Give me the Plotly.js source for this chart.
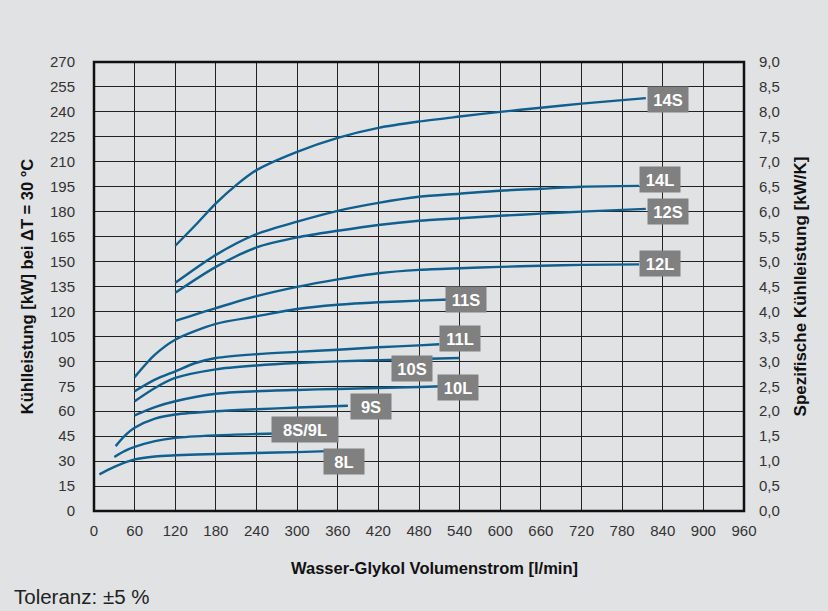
<!DOCTYPE html>
<html>
<head>
<meta charset="utf-8">
<script src="https://cdn.plot.ly/plotly-3.0.1.min.js"></script>
<style>
html,body{margin:0;padding:0;background:#e1e2e4;}
#chart{width:828px;height:611px;}
</style>
</head>
<body>
<div id="chart"></div>
<script>
// Series data: flow [l/min] and cooling capacity [kW]
const x8L   = [8, 30, 60, 90, 120, 180, 240, 300, 345];
const y8L   = [22, 26.5, 31, 32.8, 33.5, 34.3, 34.9, 35.4, 36];
const x8S9L = [30, 45, 60, 90, 120, 180, 240, 270];
const y8S9L = [32.5, 36, 38.5, 42, 44, 45.5, 46.3, 46.6];
const x9S   = [32, 45, 60, 90, 120, 180, 240, 300, 375];
const y9S   = [39, 45, 50, 55.5, 58, 60, 61.2, 62.2, 63.3];
const x10L  = [60, 90, 120, 180, 240, 300, 360, 420, 480, 515];
const y10L  = [57.5, 62.5, 66, 70.5, 72, 72.8, 73.4, 74, 74.6, 75];
const x10S  = [60, 90, 120, 180, 240, 300, 360, 420, 480, 540];
const y10S  = [66, 74, 80, 85.2, 87.5, 89, 90, 90.7, 91.4, 92];
const x11L  = [60, 90, 120, 150, 180, 240, 300, 360, 420, 480, 510];
const y11L  = [72, 79, 84, 89, 92, 94.3, 95.7, 97, 98.5, 99.6, 100.3];
const x11S  = [60, 90, 120, 180, 240, 300, 360, 420, 480, 525];
const y11S  = [80.5, 94, 103, 112.5, 117, 121.5, 124, 125.5, 126.5, 127.2];
const x12L  = [120, 180, 240, 300, 360, 420, 480, 540, 600, 660, 720, 805];
const y12L  = [114.3, 122, 129.2, 134.8, 139.3, 143, 145, 146, 146.8, 147.5, 148, 148.3];
const x12S  = [120, 180, 240, 300, 360, 420, 480, 540, 600, 660, 720, 815];
const y12S  = [131.2, 146.8, 158.5, 164.5, 168.5, 172, 174.5, 176, 177.5, 178.8, 180, 181.7];
const x14L  = [120, 180, 240, 300, 360, 420, 480, 540, 600, 660, 720, 805];
const y14L  = [137.2, 154, 166.5, 174, 180.5, 185.3, 189, 190.8, 192.6, 193.8, 195, 195.5];
const x14S  = [120, 150, 180, 210, 240, 300, 360, 420, 480, 540, 600, 660, 720, 815];
const y14S  = [159.5, 172, 185, 196, 205, 216, 224.4, 230.4, 234.2, 237.2, 240, 242.5, 245, 248.3];

// Label names and anchor points (flow, capacity)
const labelText = ['14S', '14L', '12S', '12L', '11S', '11L', '10S', '10L', '9S', '8S/9L', '8L'];
const labelX    = [848, 836, 848, 836, 550, 540, 469, 537, 409, 311, 369];
const labelY    = [247.6, 199.5, 180, 148.6, 127, 103.5, 85.7, 74, 63, 49.3, 29.5];

const xTicks = [0,60,120,180,240,300,360,420,480,540,600,660,720,780,840,900,960];
const yTicks = [0,15,30,45,60,75,90,105,120,135,150,165,180,195,210,225,240,255,270];
const y2Ticks = [0,0.5,1,1.5,2,2.5,3,3.5,4,4.5,5,5.5,6,6.5,7,7.5,8,8.5,9];
const y2Range = [0, 9];

const series = [[x8L,y8L],[x8S9L,y8S9L],[x9S,y9S],[x10L,y10L],[x10S,y10S],[x11L,y11L],
                [x11S,y11S],[x12L,y12L],[x12S,y12S],[x14L,y14L],[x14S,y14S]];

const lineColor = '#0f5f8f';
const traces = series.map(s => ({
  x: s[0], y: s[1], type: 'scatter', mode: 'lines',
  line: {color: lineColor, width: 2.4, shape: 'spline', smoothing: 0.8},
  hoverinfo: 'skip', showlegend: false
}));
// invisible trace that activates the right-hand axis
traces.push({x: [xTicks[0], xTicks[xTicks.length-1]], y: y2Range, yaxis: 'y2', type: 'scatter',
             mode: 'lines', line: {width: 0, color: 'rgba(0,0,0,0)'}, showlegend: false, hoverinfo: 'skip'});

const font = 'Liberation Sans, Arial, sans-serif';
const annotations = labelText.map((t, i) => ({
  x: labelX[i], y: labelY[i], xref: 'x', yref: 'y', text: t, showarrow: false,
  bgcolor: '#808080', font: {family: font, size: 16.5, color: '#ffffff', weight: 'bold'},
  borderpad: 3, width: t.length > 3 ? 60 : 34, height: 19
}));
annotations.push({
  xref: 'paper', yref: 'paper', x: -0.126, y: -0.1915, xanchor: 'left', yanchor: 'middle',
  text: 'Toleranz: ±5 %', showarrow: false,
  font: {family: font, size: 20.5, color: '#222'}
});
annotations.push({
  xref: 'paper', yref: 'paper', x: 0.5246, y: -0.1275, xanchor: 'center', yanchor: 'middle',
  text: 'Wasser-Glykol Volumenstrom [l/min]', showarrow: false,
  font: {family: font, size: 16.5, color: '#111', weight: 'bold'}
});

const tickFont = {family: font, size: 15, color: '#333'};

const layout = {
  width: 828, height: 611,
  paper_bgcolor: '#e1e2e4', plot_bgcolor: '#e1e2e4',
  margin: {l: 94, r: 84, t: 62, b: 100},
  separators: ',.',
  showlegend: false,
  xaxis: {
    range: [0, 960], tickvals: xTicks, ticktext: xTicks.map(String),
    showgrid: true, gridcolor: '#222', gridwidth: 1, zeroline: false, showline: false,
    ticks: '', tickfont: tickFont, ticklabelstandoff: 9,
    fixedrange: true
  },
  yaxis: {
    range: [0, 270], tickvals: yTicks, ticktext: yTicks.map(String),
    showgrid: true, gridcolor: '#222', gridwidth: 1, zeroline: false, showline: false,
    ticks: '', tickfont: tickFont, ticklabelstandoff: 18,
    title: {text: 'Kühlleistung [kW] bei ΔT = 30 °C', font: {family: font, size: 16.5, color: '#111', weight: 'bold'}, standoff: 12},
    fixedrange: true
  },
  yaxis2: {
    range: y2Range, overlaying: 'y', side: 'right', anchor: 'x', tickvals: y2Ticks, tickformat: '.1f',
    showgrid: false, zeroline: false, showline: false, ticks: '', tickfont: tickFont, ticklabelstandoff: 14,
    title: {text: 'Spezifische Kühlleistung [kW/K]', font: {family: font, size: 17, color: '#111', weight: 'bold'}, standoff: 15},
    fixedrange: true
  },
  shapes: [{type: 'rect', xref: 'paper', yref: 'paper', x0: 0, x1: 1, y0: 0, y1: 1,
            line: {color: '#111', width: 2.5}}],
  annotations: annotations
};

Plotly.newPlot('chart', traces, layout, {displayModeBar: false, staticPlot: true});
</script>
</body>
</html>
